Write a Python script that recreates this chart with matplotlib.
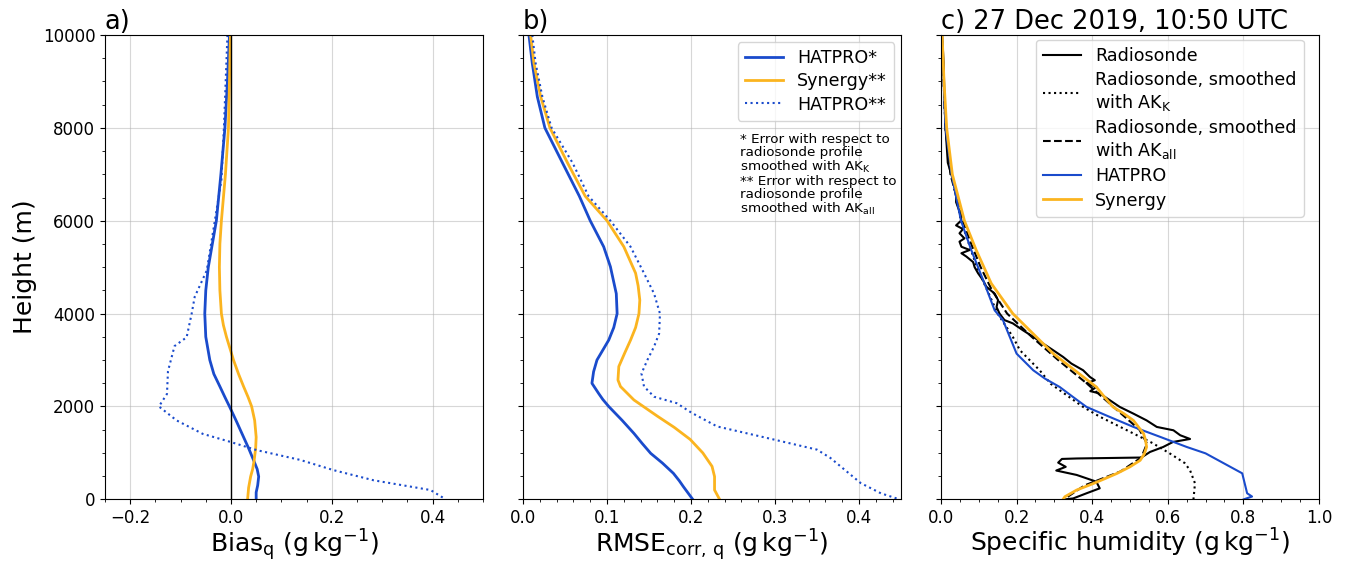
import numpy as np
import matplotlib
matplotlib.use('Agg')
import matplotlib.pyplot as plt

# ---- panel a: bias (g/kg) vs height ----
h_bias_hat = [10000, 9000, 8000, 7000, 6000, 5500, 5000, 4500, 4000, 3500, 3000, 2700, 2430,
              2200, 2000, 1700, 1340, 1100, 840, 650, 490, 300, 150, 0]
bias_hat = [-0.003, -0.007, -0.012, -0.020, -0.029, -0.037, -0.045, -0.050, -0.052, -0.050,
            -0.042, -0.034, -0.022, -0.012, -0.003, 0.010, 0.025, 0.035, 0.045, 0.052, 0.055,
            0.053, 0.050, 0.050]

h_bias_syn = [10000, 9000, 8000, 7000, 6000, 5500, 5000, 4500, 4000, 3750, 3500, 3250, 3000,
              2700, 2430, 2200, 2000, 1700, 1340, 1100, 840, 650, 490, 250, 0]
bias_syn = [-0.001, -0.003, -0.005, -0.011, -0.019, -0.022, -0.023, -0.022, -0.019, -0.015,
            -0.009, -0.002, 0.005, 0.015, 0.025, 0.034, 0.041, 0.047, 0.050, 0.049, 0.046,
            0.043, 0.039, 0.035, 0.033]

h_bias_hat2 = [10000, 8000, 6880, 6000, 4930, 4360, 4000, 3490, 3300, 2760, 2270, 2000,
               1700, 1410, 1240, 1060, 850, 630, 410, 200, 0]
bias_hat2 = [-0.007, -0.014, -0.019, -0.032, -0.048, -0.072, -0.078, -0.088, -0.112, -0.125,
             -0.127, -0.143, -0.108, -0.056, -0.002, 0.051, 0.137, 0.203, 0.283, 0.396, 0.426]

# ---- panel b: RMSE (g/kg) vs height ----
h_rmse_hat = [10000, 9390, 8670, 8000, 7245, 6530, 6000, 5440, 5010, 4430, 4000, 3700, 3430,
              3000, 2750, 2500, 2280, 2150, 2000, 1700, 1420, 1200, 990, 780, 560, 400, 270, 0]
rmse_hat = [0.007, 0.011, 0.017, 0.026, 0.047, 0.067, 0.080, 0.096, 0.104, 0.111, 0.112, 0.108,
            0.102, 0.088, 0.084, 0.082, 0.090, 0.095, 0.102, 0.118, 0.132, 0.142, 0.152, 0.166,
            0.179, 0.186, 0.191, 0.202]

h_rmse_syn = [10000, 9390, 8670, 8000, 7245, 6530, 6000, 5440, 4870, 4600, 4290, 4000, 3700,
              3430, 3150, 2860, 2570, 2430, 2140, 1790, 1550, 1290, 1000, 710, 490, 200, 0]
rmse_syn = [0.009, 0.013, 0.021, 0.032, 0.053, 0.074, 0.100, 0.120, 0.134, 0.137, 0.139, 0.138,
            0.134, 0.128, 0.121, 0.114, 0.113, 0.116, 0.132, 0.160, 0.180, 0.199, 0.214, 0.225,
            0.228, 0.228, 0.234]

h_rmse_hat2 = [10000, 9390, 8670, 8000, 7245, 6530, 6000, 5440, 4870, 4430, 4000, 3570, 3290,
               3000, 2710, 2430, 2210, 2070, 1860, 1570, 1290, 1070, 890, 710, 350, 130, 0]
rmse_hat2 = [0.011, 0.015, 0.023, 0.034, 0.059, 0.078, 0.104, 0.128, 0.144, 0.156, 0.163, 0.162,
             0.156, 0.148, 0.141, 0.144, 0.156, 0.183, 0.201, 0.231, 0.298, 0.350, 0.366, 0.378,
             0.402, 0.426, 0.448]

# ---- panel c: specific humidity (g/kg) vs height ----
h_sonde = [10000, 9400, 8700, 8000, 7250, 6900, 6550, 6400, 6200, 6010, 5900, 5820, 5730, 5620,
           5550, 5440, 5370, 5300, 5230, 5110, 5000, 4870, 4720, 4580, 4430, 4290, 4140, 4000,
           3860, 3790, 3640, 3500, 3355, 3210, 3067, 2924, 2780, 2636, 2565, 2500, 2420, 2330,
           2280, 2133, 1990, 1846, 1700, 1559, 1487, 1380, 1300, 1236, 1128, 1020, 900, 880,
           870, 790, 700, 620, 525, 380, 237, 130, 20, 0]
q_sonde = [0.003, 0.007, 0.009, 0.012, 0.018, 0.031, 0.040, 0.040, 0.049, 0.054, 0.040, 0.058,
           0.049, 0.062, 0.049, 0.054, 0.076, 0.054, 0.067, 0.085, 0.089, 0.098, 0.111, 0.120,
           0.142, 0.151, 0.147, 0.155, 0.168, 0.190, 0.217, 0.244, 0.270, 0.297, 0.323, 0.345,
           0.376, 0.394, 0.407, 0.385, 0.411, 0.395, 0.420, 0.447, 0.473, 0.509, 0.544, 0.571,
           0.615, 0.633, 0.659, 0.614, 0.588, 0.553, 0.530, 0.360, 0.320, 0.310, 0.330, 0.305,
           0.359, 0.411, 0.420, 0.385, 0.350, 0.330]

h_sonde_k = [10000, 8000, 7000, 6000, 5000, 4000, 3500, 3210, 2780, 2490, 1990, 1780, 1345,
             1210, 985, 780, 625, 345, 0]
q_sonde_k = [0.002, 0.012, 0.028, 0.053, 0.095, 0.150, 0.190, 0.209, 0.261, 0.290, 0.376, 0.420,
             0.527, 0.560, 0.606, 0.645, 0.659, 0.672, 0.668]

h_sonde_all = [10000, 8000, 7000, 6000, 5500, 5000, 4500, 4000, 3500, 3000, 2500, 2000, 1500,
               1200, 900, 600, 300, 0]
q_sonde_all = [0.002, 0.012, 0.025, 0.058, 0.080, 0.105, 0.135, 0.175, 0.240, 0.310, 0.385,
               0.455, 0.525, 0.545, 0.530, 0.475, 0.380, 0.325]

h_q_hat = [10000, 8000, 7000, 6000, 5370, 4650, 4070, 3858, 3138, 2780, 2600, 2420, 2200, 1990,
           1780, 1560, 1345, 1128, 990, 560, 130, 60, 0]
q_hat = [0.002, 0.012, 0.028, 0.053, 0.080, 0.115, 0.142, 0.164, 0.200, 0.244, 0.275, 0.314,
         0.350, 0.385, 0.445, 0.509, 0.580, 0.650, 0.700, 0.797, 0.810, 0.823, 0.801]

h_q_syn = [10000, 9000, 8000, 7000, 6000, 5370, 4650, 4000, 3500, 3138, 2640, 2420, 2200, 1990,
           1850, 1700, 1415, 1280, 1128, 980, 840, 700, 555, 450, 340, 200, 57, 0]
q_syn = [0.003, 0.008, 0.015, 0.030, 0.062, 0.093, 0.133, 0.190, 0.252, 0.297, 0.376, 0.411,
         0.433, 0.455, 0.483, 0.509, 0.536, 0.541, 0.544, 0.538, 0.527, 0.500, 0.465, 0.435,
         0.403, 0.359, 0.328, 0.323]

blue = '#1a4bcc'
orange = '#fbb41f'

fig = plt.figure(figsize=(13.46, 5.63), dpi=100)
ax1 = fig.add_axes([0.0780, 0.1131, 0.2808, 0.8247])
ax2 = fig.add_axes([0.3886, 0.1131, 0.2808, 0.8247], sharey=ax1)
ax3 = fig.add_axes([0.6991, 0.1131, 0.2808, 0.8247], sharey=ax1)

# a) bias
ax1.plot(bias_hat, h_bias_hat, color=blue, lw=2)
ax1.plot(bias_syn, h_bias_syn, color=orange, lw=2)
ax1.plot(bias_hat2, h_bias_hat2, color=blue, lw=1.5, ls=':')
ax1.axvline(0, color='k', lw=1)
ax1.set_xlim(-0.25, 0.5)
ax1.set_ylim(0, 10000)
ax1.set_xticks([-0.2, 0.0, 0.2, 0.4])
ax1.set_xlabel(r'Bias$_\mathrm{q}$ (g$\,$kg$^{-1}$)', fontsize=18, labelpad=0)
ax1.set_ylabel('Height (m)', fontsize=18)
ax1.set_title('a)', loc='left', fontsize=18.5, pad=4)

# b) RMSE
ax2.plot(rmse_hat, h_rmse_hat, color=blue, lw=2, label='HATPRO*')
ax2.plot(rmse_syn, h_rmse_syn, color=orange, lw=2, label='Synergy**')
ax2.plot(rmse_hat2, h_rmse_hat2, color=blue, lw=1.5, ls=':', label='HATPRO**')
ax2.set_xlim(0, 0.45)
ax2.set_xticks([0.0, 0.1, 0.2, 0.3, 0.4])
ax2.set_xlabel(r'RMSE$_\mathrm{corr,\,q}$ (g$\,$kg$^{-1}$)', fontsize=18, labelpad=0)
ax2.set_title('b)', loc='left', fontsize=18.5, pad=4)
ax2.legend(loc='upper right', fontsize=12.6, handlelength=2.2, labelspacing=0.3,
           borderaxespad=0.4)
ax2.text(0.575, 0.79,
         '* Error with respect to\nradiosonde profile\nsmoothed with AK$_\\mathrm{K}$\n'
         '** Error with respect to\nradiosonde profile\nsmoothed with AK$_\\mathrm{all}$',
         transform=ax2.transAxes, fontsize=9.7, va='top', ha='left', linespacing=1.0)

# c) specific humidity
ax3.plot(q_sonde, h_sonde, color='k', lw=1.5, label='Radiosonde')
ax3.plot(q_sonde_k, h_sonde_k, color='k', lw=1.5, ls=':',
         label='Radiosonde, smoothed\nwith AK$_\\mathrm{K}$')
ax3.plot(q_sonde_all, h_sonde_all, color='k', lw=1.5, ls='--',
         label='Radiosonde, smoothed\nwith AK$_\\mathrm{all}$')
ax3.plot(q_hat, h_q_hat, color=blue, lw=1.5, label='HATPRO')
ax3.plot(q_syn, h_q_syn, color=orange, lw=2, label='Synergy')
ax3.set_xlim(0, 1.0)
ax3.set_xticks([0.0, 0.2, 0.4, 0.6, 0.8, 1.0])
ax3.set_xlabel(r'Specific humidity (g$\,$kg$^{-1}$)', fontsize=18, labelpad=0)
ax3.set_title('c) 27 Dec 2019, 10:50 UTC', loc='left', fontsize=18.5, pad=4)
ax3.legend(loc='upper right', bbox_to_anchor=(0.96, 0.99), fontsize=12.6, handlelength=2.2,
           labelspacing=0.35, borderaxespad=0.0)

for ax in (ax1, ax2, ax3):
    ax.minorticks_on()
    ax.grid(True, which='major', alpha=0.5)
    ax.tick_params(labelsize=12)
ax1.set_yticks([0, 2000, 4000, 6000, 8000, 10000])
ax2.tick_params(labelleft=False)
ax3.tick_params(labelleft=False)

plt.savefig('out.png', dpi=100)
